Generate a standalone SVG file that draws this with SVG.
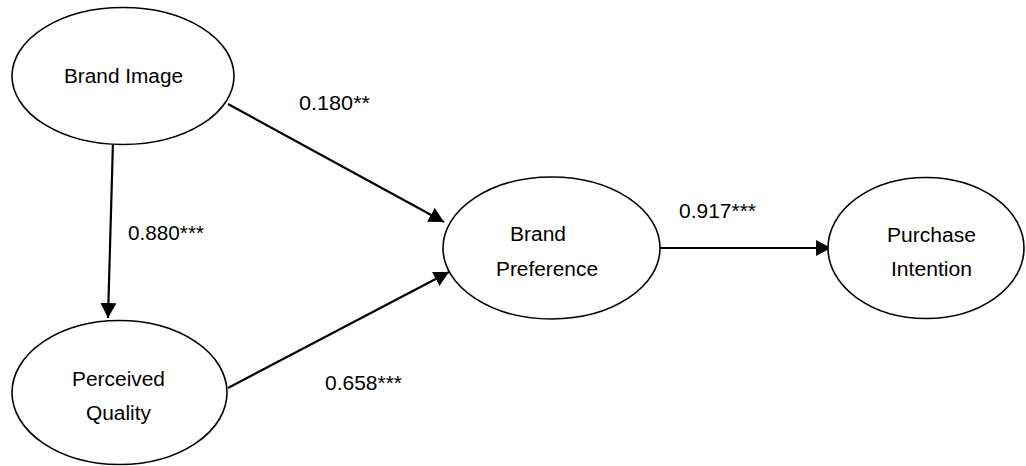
<svg xmlns="http://www.w3.org/2000/svg" width="1026" height="466" viewBox="0 0 1026 466">
<style>
.node ellipse{fill:#fff;stroke:#000;stroke-width:1.6}
text{font-family:"Liberation Sans",Arial,sans-serif;font-size:20px;fill:#000}
.edge{stroke:#000;stroke-width:2.2;fill:none;marker-end:url(#arr)}
</style>
<defs>
<marker id="arr" markerUnits="userSpaceOnUse" markerWidth="16" markerHeight="16" refX="15" refY="8" orient="auto">
<path d="M0,0 L15,8 L0,16 z" fill="#000"/>
</marker>
</defs>
<rect width="1026" height="466" fill="#fff"/>
<g id="connectors">
<line class="edge" x1="113" y1="141" x2="108" y2="318"/>
<line class="edge" x1="228" y1="104" x2="444" y2="222"/>
<line class="edge" x1="228" y1="388" x2="449" y2="272"/>
<line class="edge" x1="660" y1="248" x2="831" y2="248"/>
<text x="299" y="110" textLength="71" lengthAdjust="spacingAndGlyphs">0.180**</text>
<text x="128" y="240" textLength="76" lengthAdjust="spacingAndGlyphs">0.880***</text>
<text x="679" y="218" textLength="77" lengthAdjust="spacingAndGlyphs">0.917***</text>
<text x="325" y="390" textLength="77" lengthAdjust="spacingAndGlyphs">0.658***</text>
</g>
<g id="brand-image" class="node">
<ellipse cx="123" cy="76" rx="111" ry="68.5"/>
<text x="64" y="83" textLength="119" lengthAdjust="spacingAndGlyphs">Brand Image</text>
</g>
<g id="perceived-quality" class="node">
<ellipse cx="119.5" cy="392.5" rx="107.5" ry="72"/>
<text x="72" y="386" textLength="93" lengthAdjust="spacingAndGlyphs">Perceived</text>
<text x="86" y="420" textLength="65" lengthAdjust="spacingAndGlyphs">Quality</text>
</g>
<g id="brand-preference" class="node">
<ellipse cx="551.5" cy="248" rx="108.5" ry="71"/>
<text x="510" y="241" textLength="56" lengthAdjust="spacingAndGlyphs">Brand</text>
<text x="496" y="276" textLength="102" lengthAdjust="spacingAndGlyphs">Preference</text>
</g>
<g id="purchase-intention" class="node">
<ellipse cx="926" cy="248" rx="98" ry="70.5"/>
<text x="887" y="242" textLength="89" lengthAdjust="spacingAndGlyphs">Purchase</text>
<text x="891" y="276" textLength="81" lengthAdjust="spacingAndGlyphs">Intention</text>
</g>
</svg>
